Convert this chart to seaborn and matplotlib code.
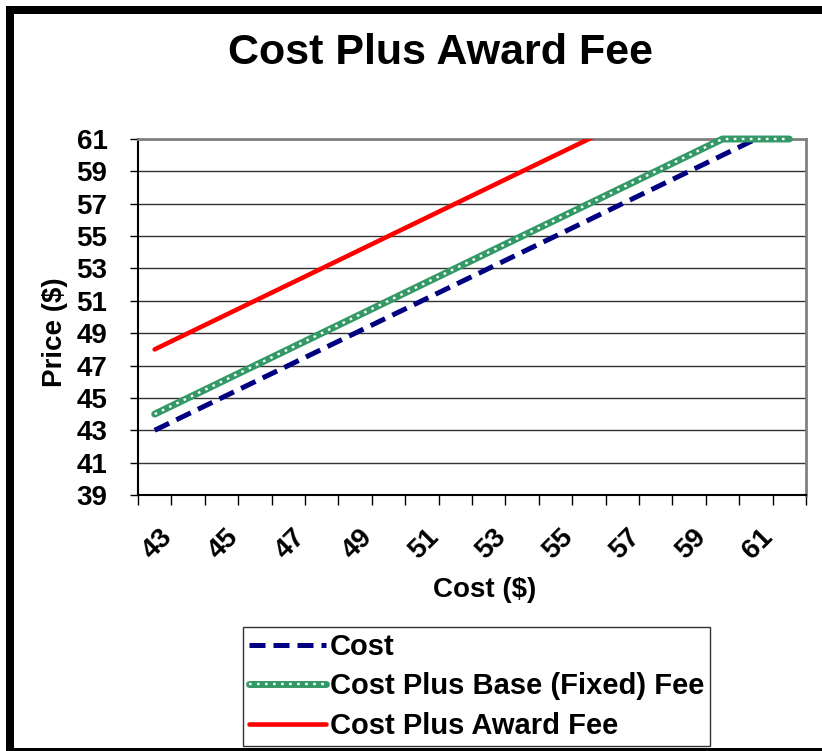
import matplotlib
matplotlib.use("Agg")
import matplotlib.pyplot as plt
import seaborn as sns
import pandas as pd
from matplotlib.lines import Line2D
from matplotlib.patches import Rectangle
from matplotlib.legend_handler import HandlerTuple
from matplotlib.ticker import FixedLocator
import matplotlib.transforms as mtrans

# ---------------- data ----------------
cost_x = [43, 44, 45, 46, 47, 48, 49, 50, 51, 52, 53, 54, 55, 56, 57, 58, 59, 60, 61, 62]
cost = [43, 44, 45, 46, 47, 48, 49, 50, 51, 52, 53, 54, 55, 56, 57, 58, 59, 60, 61, 62]
base_fee = [44, 45, 46, 47, 48, 49, 50, 51, 52, 53, 54, 55, 56, 57, 58, 59, 60, 61, 61, 61]
award_fee = [48, 49, 50, 51, 52, 53, 54, 55, 56, 57, 58, 59, 60, 61, 62, 63, 64, 65, 66, 67]
x_tick_labels = ["43", "45", "47", "49", "51", "53", "55", "57", "59", "61"]
y_ticks = [39, 41, 43, 45, 47, 49, 51, 53, 55, 57, 59, 61]
series_names = ["Cost", "Cost Plus Base (Fixed) Fee", "Cost Plus Award Fee"]

df = pd.DataFrame({"cost_x": cost_x, "cost": cost, "base": base_fee, "award": award_fee})

sns.set_theme(style="white")
plt.rcParams["font.family"] = ["Liberation Sans", "DejaVu Sans"]
plt.rcParams["font.weight"] = "bold"
for k in ["text.color", "axes.labelcolor", "xtick.color", "ytick.color"]:
    plt.rcParams[k] = "black"

W, H = 822, 751
fig = plt.figure(figsize=(W / 100, H / 100), dpi=100)
fig.patch.set_facecolor("white")

L, R, T, B = 138, 806, 139, 495
ax = fig.add_axes([L / W, 1 - B / H, (R - L) / W, (B - T) / H])
ax.set_facecolor("white")

navy = "#000080"
green = "#339966"
red = "#FF0000"

lw_cost, lw_base, lw_dots, lw_award = 3.6, 5.0, 1.7, 3.3
dash_cost = (0, (3.2, 1.6))
dash_dots = (0, (1.1, 2.3))

# Cost (dashed navy)
sns.lineplot(data=df, x="cost_x", y="cost", ax=ax, color=navy, lw=lw_cost,
             linestyle=dash_cost, zorder=4)
# Cost plus base fee (green with white dots)
sns.lineplot(data=df, x="cost_x", y="base", ax=ax, color=green, lw=lw_base,
             clip_on=False, zorder=5, solid_capstyle="round")
sns.lineplot(data=df, x="cost_x", y="base", ax=ax, color="white", lw=lw_dots,
             linestyle=dash_dots, clip_on=False, zorder=6)
# Cost plus award fee (red)
sns.lineplot(data=df, x="cost_x", y="award", ax=ax, color=red, lw=lw_award,
             zorder=4, solid_capstyle="round")

ax.set_xlim(42.5, 62.5)
ax.set_ylim(39, 61)

# y axis
ax.yaxis.set_major_locator(FixedLocator(y_ticks))
ax.set_yticklabels([str(v) for v in y_ticks])
ax.tick_params(axis="y", which="major", direction="out", length=6, width=1,
               color="black", left=True, pad=16, labelsize=20)
ax.yaxis.grid(True, color="black", lw=1, alpha=0.8)
ax.xaxis.grid(False)

# x axis: labels on every other category, ticks at category boundaries
ax.xaxis.set_major_locator(FixedLocator([int(s) for s in x_tick_labels]))
ax.set_xticklabels(x_tick_labels, rotation=45, ha="right", va="top",
                   rotation_mode="anchor")
ax.xaxis.set_minor_locator(FixedLocator([v - 0.5 for v in cost_x] + [cost_x[-1] + 0.5]))
ax.tick_params(axis="x", which="major", length=0, pad=21, labelsize=20)
ax.tick_params(axis="x", which="minor", direction="out", length=7, width=1,
               color="black", bottom=True)
offset = mtrans.ScaledTranslation(3 / 72, 0, fig.dpi_scale_trans)
for lab in ax.get_xticklabels():
    lab.set_transform(lab.get_transform() + offset)

for s in ["left", "bottom"]:
    ax.spines[s].set_color("black")
    ax.spines[s].set_linewidth(1.5)
for s in ["top", "right"]:
    ax.spines[s].set_color("#808080")
    ax.spines[s].set_linewidth(2)

ax.set_xlabel("Cost ($)", fontsize=20, fontweight="bold")
ax.xaxis.label.set_va("center")
ax.xaxis.set_label_coords((485 - L) / (R - L), (B - 590) / (B - T))
ax.set_ylabel("Price ($)", fontsize=20, fontweight="bold")
ax.yaxis.label.set_va("center")
ax.yaxis.set_label_coords((55 - L) / (R - L), (B - 332) / (B - T))

# title
fig.text(440 / W, 1 - 53 / H, "Cost Plus Award Fee", ha="center", va="center",
         fontsize=31, fontweight="bold")

# legend
h_cost = Line2D([], [], color=navy, lw=lw_cost, linestyle=dash_cost)
h_base = (Line2D([], [], color=green, lw=lw_base, solid_capstyle="round"),
          Line2D([], [], color="white", lw=lw_dots, linestyle=dash_dots))
h_award = Line2D([], [], color=red, lw=lw_award, solid_capstyle="round")
leg = fig.legend([h_cost, h_base, h_award], series_names,
                 handler_map={tuple: HandlerTuple(ndivide=1)},
                 loc="lower left", bbox_to_anchor=(243 / W, 5 / H),
                 prop={"weight": "bold", "size": 21},
                 frameon=True, fancybox=False, edgecolor="black",
                 handlelength=2.65, handletextpad=0.12, labelspacing=0.4,
                 borderpad=0.2, borderaxespad=0)
leg.get_frame().set_linewidth(1.0)

# outer black frame (left, top, bottom)
fig.patches.append(Rectangle((6 / W, 3 / H), 8 / W, 1 - 9 / H, transform=fig.transFigure,
                             facecolor="black", edgecolor="none", zorder=10))
fig.patches.append(Rectangle((6 / W, 1 - 14 / H), 1 - 6 / W, 8 / H, transform=fig.transFigure,
                             facecolor="black", edgecolor="none", zorder=10))
fig.patches.append(Rectangle((6 / W, 0), 1 - 6 / W, 3 / H, transform=fig.transFigure,
                             facecolor="black", edgecolor="none", zorder=10))

fig.savefig("out.png", dpi=100)
